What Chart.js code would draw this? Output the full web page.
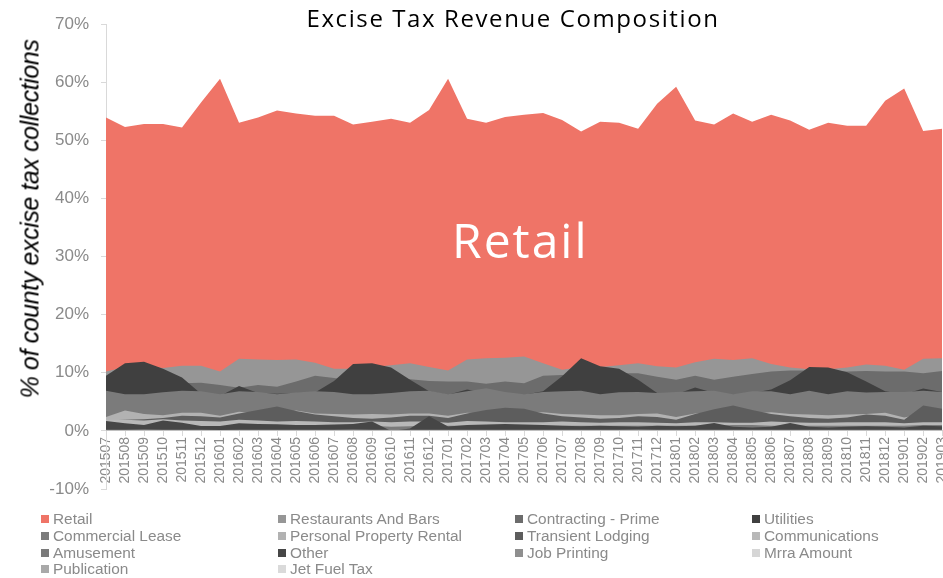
<!DOCTYPE html>
<html>
<head>
  <title>Excise Tax Revenue Composition</title>
  <script src="https://cdn.jsdelivr.net/npm/chart.js"></script>
  <style>
    body {
      margin: 0;
      overflow: hidden;
      background: #fff;
      font-family: "Liberation Sans", Arial, sans-serif;
    }
    .wrap {
      position: relative;
      width: 960px;
      height: 578px;
    }
    canvas {
      position: absolute;
      left: 0;
      top: 0;
    }
    h1 {
      position: absolute;
      left: 513px;
      top: 1px;
      transform: translateX(-50%);
      margin: 0;
      font: 400 24px "Open Sans", sans-serif;
      letter-spacing: 1.6px;
      white-space: nowrap;
      color: #000;
    }
    .ytitle {
      position: absolute;
      left: 30px;
      top: 219px;
      transform: translate(-50%, -50%) rotate(-90deg);
      font: italic 25px "Liberation Sans", Arial, sans-serif;
      letter-spacing: -0.4px;
      white-space: nowrap;
      color: #000;
    }
    .legend {
      position: absolute;
      left: 41px;
      top: 511px;
      display: grid;
      grid-template-columns: repeat(4, 237px);
      grid-auto-rows: 16.7px;
      font-size: 15.4px;
      color: #8a8a8a;
    }
    .legend span {
      display: flex;
      align-items: center;
      white-space: nowrap;
    }
    .legend i {
      width: 8px;
      height: 8px;
      margin-right: 4px;
      display: inline-block;
    }
  </style>
</head>
<body>
<div class="wrap">
  <canvas id="chart" width="960" height="578"></canvas>
  <h1>Excise Tax Revenue Composition</h1>
  <div class="ytitle">% of county excise tax collections</div>
  <div class="legend" id="legend"></div>
</div>

<script>
  const months = ['201507','201508','201509','201510','201511','201512',
    '201601','201602','201603','201604','201605','201606','201607','201608','201609','201610','201611','201612',
    '201701','201702','201703','201704','201705','201706','201707','201708','201709','201710','201711','201712',
    '201801','201802','201803','201804','201805','201806','201807','201808','201809','201810','201811','201812',
    '201901','201902','201903'];

  // series, in legend order (Retail sits at the back, later ones in front)
  const names = ['Retail', 'Restaurants And Bars', 'Contracting - Prime', 'Utilities',
    'Commercial Lease', 'Personal Property Rental', 'Transient Lodging', 'Communications',
    'Amusement', 'Other', 'Job Printing', 'Mrra Amount', 'Publication', 'Jet Fuel Tax'];

  const colors = ['#ef7467', '#969696', '#6c6c6c', '#404040',
    '#7b7b7b', '#b2b2b2', '#5d5d5d', '#b8b8b8',
    '#7a7a7a', '#464646', '#8f8f8f', '#d6d6d6', '#a9a9a9', '#dadada'];

  const retail = [53.9,52.3,52.8,52.8,52.2,56.5,60.6,53.0,53.9,55.1,54.6,54.2,54.2,52.7,53.2,53.7,53.0,55.2,
    60.6,53.7,53.0,54.0,54.4,54.7,53.5,51.5,53.2,53.0,52.0,56.3,59.2,53.4,52.7,54.6,53.2,54.4,53.4,51.8,53.0,52.5,52.5,56.8,
    58.9,51.6,52.0];
  const restaurants = [10.2,11.0,11.2,10.8,11.2,11.2,10.2,12.4,12.3,12.2,12.3,11.7,10.7,10.7,11.0,11.3,11.65,11.0,
    10.4,12.3,12.5,12.6,12.8,11.65,10.5,11.0,11.0,11.3,11.65,11.1,10.9,11.8,12.4,12.2,12.5,11.5,10.9,10.6,10.6,10.9,11.4,11.2,
    10.5,12.4,12.5];
  const contracting = [8.0,8.0,8.0,8.0,8.2,8.3,7.9,7.4,7.9,7.6,8.5,9.5,9.1,8.6,8.4,8.6,8.9,8.6,
    8.5,8.5,8.1,8.5,8.2,9.5,9.6,9.8,9.8,9.9,9.9,9.3,8.8,9.5,8.8,9.3,9.8,10.2,10.4,10.4,10.3,10.2,10.3,10.2,
    10.2,9.9,10.3];
  const utilities = [9.5,11.65,11.9,10.7,9.2,6.4,6.0,7.7,6.5,6.4,6.5,6.6,8.6,11.5,11.65,10.9,8.8,6.8,
    6.2,7.1,6.5,6.4,6.2,6.8,9.4,12.5,11.1,10.7,8.8,6.5,6.3,7.45,6.5,6.2,6.5,7.1,8.7,11.0,10.9,10.1,8.5,6.8,
    6.3,7.3,6.7];
  const commercialLease = [6.9,6.3,6.3,6.65,6.9,6.8,6.3,6.8,6.7,6.3,6.6,6.8,6.7,6.3,6.3,6.5,6.8,6.9,
    6.3,6.8,7.35,6.7,6.3,6.7,6.8,6.9,6.3,6.65,6.7,6.5,6.7,6.8,6.9,6.3,6.8,6.8,6.3,6.9,6.3,6.8,6.6,6.7,
    6.7,6.9,6.7];
  const propertyRental = [2.4,3.5,2.9,2.7,3.1,3.1,2.6,3.3,3.0,2.9,3.5,3.0,2.9,2.8,2.9,2.8,3.0,3.0,
    2.6,3.1,3.0,3.0,3.1,3.2,2.9,2.8,2.7,2.7,2.9,3.0,2.4,3.0,3.2,3.0,3.0,3.2,2.9,2.8,2.7,2.8,2.9,3.1,
    2.3,3.0,3.0];
  const transientLodging = [1.8,1.9,2.0,2.2,2.6,2.5,2.3,3.0,3.6,4.2,3.4,2.8,2.5,2.2,2.1,2.3,2.6,2.6,
    2.2,3.0,3.6,4.0,3.8,3.0,2.5,2.3,2.1,2.2,2.5,2.4,1.9,2.9,3.7,4.35,3.6,2.9,2.5,2.2,2.1,2.3,2.8,2.6,
    1.9,4.35,3.8];
  const communications = [1.9,1.9,1.8,2.0,1.8,1.7,1.6,1.9,1.8,1.6,1.7,1.6,1.5,1.5,1.6,1.5,1.6,1.6,
    1.4,1.7,1.6,1.5,1.5,1.5,1.6,1.5,1.4,1.5,1.5,1.4,1.3,1.5,1.5,1.4,1.4,1.6,1.5,1.4,1.4,1.5,1.5,1.5,
    1.3,1.5,1.5];
  const amusement = [0.9,0.9,0.8,0.9,0.9,0.8,0.8,0.9,0.9,0.9,0.9,0.9,0.9,0.9,0.9,0.7,0.8,0.9,
    0.9,0.9,0.9,1.0,1.0,0.9,0.9,0.9,0.9,0.9,0.9,0.9,0.9,0.9,0.9,1.0,1.0,0.9,0.9,0.9,0.9,0.9,0.9,0.9,
    0.9,1.0,1.0];
  const other = [1.7,1.3,1.0,1.8,1.4,0.85,0.85,1.3,1.2,1.15,1.0,1.0,1.1,1.2,1.6,0.0,0.4,2.5,
    0.75,1.0,1.1,1.2,1.1,1.0,0.9,0.8,0.9,0.8,0.7,0.9,0.8,0.9,1.35,0.7,0.6,0.7,1.35,0.7,0.6,0.7,0.8,0.7,
    0.6,0.9,0.8];
  const jobPrinting = [0.2,0.2,0.25,0.2,0.2,0.2,0.15,0.2,0.2,0.2,0.2,0.2,0.2,0.25,0.2,0.2,0.2,0.2,
    0.2,0.2,0.2,0.2,0.2,0.2,0.2,0.2,0.2,0.2,0.25,0.2,0.2,0.2,0.2,0.2,0.2,0.2,0.2,0.2,0.2,0.2,0.2,0.2,
    0.2,0.2,0.2];
  const mrra = [0.1,0.1,0.1,0.1,0.1,0.1,0.1,0.1,0.1,0.1,0.1,0.1,0.1,0.1,0.1,0.1,0.1,0.1,
    0.1,0.1,0.1,0.1,0.1,0.1,0.1,0.1,0.1,0.1,0.1,0.1,0.1,0.1,0.1,0.1,0.1,0.1,0.1,0.1,0.1,0.1,0.1,0.1,
    0.1,0.1,0.1];
  const publication = [0.08,0.08,0.08,0.07,0.08,0.08,0.07,0.08,0.08,0.08,0.08,0.07,0.08,0.08,0.08,0.07,0.08,0.08,
    0.07,0.08,0.08,0.08,0.08,0.07,0.08,0.08,0.08,0.07,0.08,0.08,0.07,0.08,0.08,0.08,0.08,0.07,0.08,0.08,0.08,0.07,0.08,0.08,
    0.07,0.08,0.08];
  const jetFuel = [0.02,0.02,0.02,0.02,0.02,0.02,0.02,0.02,0.02,0.02,0.02,0.02,0.02,0.02,0.02,0.02,0.02,0.02,
    0.02,0.02,0.02,0.02,0.02,0.02,0.02,0.02,0.02,0.02,0.02,0.02,0.02,0.02,0.02,0.02,0.02,0.02,0.02,0.02,0.02,0.02,0.02,0.02,
    0.02,0.02,0.02];

  const yTicks = [-10, 0, 10, 20, 30, 40, 50, 60, 70];

  const seriesValues = [retail, restaurants, contracting, utilities, commercialLease, propertyRental,
    transientLodging, communications, amusement, other, jobPrinting, mrra, publication, jetFuel];

  const tickGray = '#8a8a8a';
  const axisGray = '#d9d9d9';

  // big white "Retail" label in the middle of the salmon area
  const retailLabel = {
    id: 'retailLabel',
    afterDatasetsDraw(chart) {
      const {ctx, scales: {x, y}} = chart;
      ctx.save();
      ctx.font = '48px "Open Sans"';
      ctx.letterSpacing = '2px';
      ctx.fillStyle = '#fff';
      ctx.textAlign = 'center';
      ctx.textBaseline = 'alphabetic';
      ctx.fillText('Retail', x.getPixelForValue(21.8), y.getPixelForValue(29.8));
      ctx.restore();
    }
  };

  const datasets = names.map((name, i) => ({
    label: name,
    data: seriesValues[i],
    backgroundColor: colors[i],
    borderWidth: 0,
    pointRadius: 0,
    fill: 'origin',
    order: -i
  }));

  new Chart(document.getElementById('chart').getContext('2d'), {
    type: 'line',
    data: { labels: months, datasets: datasets },
    plugins: [retailLabel],
    options: {
      responsive: false,
      animation: false,
      layout: { padding: { left: 0, right: 16, top: 24, bottom: 89 } },
      plugins: { legend: { display: false }, tooltip: { enabled: false } },
      elements: { line: { tension: 0, borderWidth: 0 } },
      scales: {
        x: {
          position: { y: 0 },
          offset: false,
          z: 1,
          grid: { drawOnChartArea: false, tickLength: 5, color: axisGray },
          border: { color: axisGray },
          ticks: {
            autoSkip: false, minRotation: 90, maxRotation: 90, padding: 1,
            color: tickGray, font: { size: 14, family: '"Liberation Sans", Arial' }
          }
        },
        y: {
          min: yTicks[0],
          max: yTicks[yTicks.length - 1],
          afterBuildTicks: s => { s.ticks = yTicks.map(v => ({ value: v })); },
          afterFit: s => { s.width = 106; },
          grid: { drawOnChartArea: false, tickLength: 5, color: axisGray },
          border: { color: axisGray },
          ticks: {
            padding: 12, color: tickGray,
            font: { size: 17, family: '"Liberation Sans", Arial' },
            callback: v => v + '%'
          }
        }
      }
    }
  });

  // legend, 4 columns like the original
  const legend = document.getElementById('legend');
  names.forEach((name, i) => {
    const item = document.createElement('span');
    item.innerHTML = '<i style="background:' + colors[i] + '"></i>' + name;
    legend.appendChild(item);
  });
</script>
</body>
</html>
